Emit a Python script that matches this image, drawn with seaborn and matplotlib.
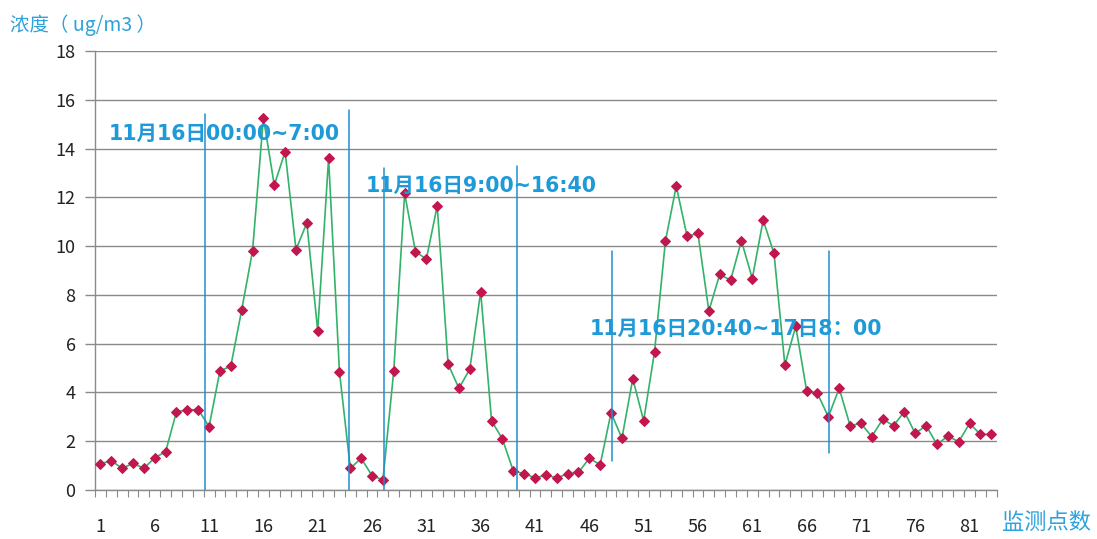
import numpy as np
import pandas as pd
import seaborn as sns
import matplotlib.pyplot as plt
from matplotlib.ticker import MultipleLocator, FixedLocator

# 监测数据 (ug/m3)
values = [1.07, 1.20, 0.89, 1.09, 0.89, 1.32, 1.57, 3.21, 3.28, 3.30,
          2.60, 4.88, 5.08, 7.38, 9.80, 15.27, 12.50, 13.87, 9.86, 10.95,
          6.53, 13.60, 4.85, 0.89, 1.30, 0.59, 0.41, 4.89, 12.16, 9.77,
          9.47, 11.65, 5.16, 4.17, 4.96, 8.13, 2.84, 2.09, 0.78, 0.67,
          0.50, 0.61, 0.50, 0.66, 0.72, 1.30, 1.04, 3.17, 2.12, 4.56,
          2.84, 5.66, 10.19, 12.46, 10.40, 10.52, 7.34, 8.84, 8.60, 10.22,
          8.67, 11.07, 9.70, 5.12, 6.72, 4.07, 3.96, 3.00, 4.17, 2.64,
          2.73, 2.19, 2.90, 2.64, 3.21, 2.32, 2.64, 1.87, 2.21, 1.98,
          2.73, 2.28, 2.28]
points = list(range(1, len(values) + 1))
xtick_labels = [str(i) for i in range(1, 82, 5)]

# 时段分隔线 (x位置, 下端, 上端)
sep_x = [10.6, 23.9, 27.1, 39.3, 48.1, 68.1]
sep_bottom = [0, 0, 0, 0, 1.2, 1.5]
sep_top = [15.4, 15.6, 13.2, 13.3, 9.8, 9.8]

# 时段标注
period_labels = ["11月16日00:00~7:00", "11月16日9:00~16:40", "11月16日20:40~17日8：00"]
period_x = [1.8, 25.4, 46.0]
period_y = [14.6, 12.45, 6.6]

sns.set_style("white")
plt.rcParams['font.family'] = ['Noto Sans CJK SC', 'DejaVu Sans']

df = pd.DataFrame({"point": points, "value": values})

fig = plt.figure(figsize=(10.97, 5.39), dpi=100)
ax = fig.add_axes([0.0866, 0.0909, 0.822, 0.8145])

sns.lineplot(data=df, x="point", y="value", ax=ax, color="#33b26a", linewidth=1.2,
             marker="D", markersize=5.5, markerfacecolor="#c2174e",
             markeredgecolor="#c2174e", zorder=3)

for x, b, t in zip(sep_x, sep_bottom, sep_top):
    ax.plot([x, x], [b, t], color="#1f8fd0", linewidth=1.1, zorder=4)

for s, x, y in zip(period_labels, period_x, period_y):
    ax.text(x, y, s, color="#1f9ad8", fontsize=14.8, fontweight="bold",
            family=['DejaVu Sans', 'Noto Sans CJK SC'],
            va="center", ha="left", zorder=5)

ax.set_xlim(0.5, len(values) + 0.5)
ax.set_ylim(0, 18)
ax.yaxis.set_major_locator(MultipleLocator(2))
ax.grid(axis="y", color="#8a8a8a", linewidth=1)
ax.set_axisbelow(True)

ax.xaxis.set_major_locator(FixedLocator(list(range(1, 82, 5))))
ax.set_xticklabels(xtick_labels)
ax.xaxis.set_minor_locator(FixedLocator(np.arange(0.5, len(values) + 1, 1)))
ax.tick_params(axis="x", which="major", length=0, pad=20, labelsize=13,
               labelcolor="#222222")
ax.tick_params(axis="x", which="minor", length=5, width=0.8, color="#8a8a8a",
               direction="out", bottom=True)
ax.tick_params(axis="y", which="major", length=7, width=1, color="#8a8a8a",
               pad=7, labelsize=13, labelcolor="#222222", left=True)

for side in ["top", "right"]:
    ax.spines[side].set_visible(False)
for side in ["left", "bottom"]:
    ax.spines[side].set_color("#8a8a8a")
    ax.spines[side].set_linewidth(1)

ax.set_xlabel("")
ax.set_ylabel("")
fig.text(0.009, 0.953, "浓度（ ug/m3 ）", color="#2ea2dc", fontsize=14, va="center", ha="left")
fig.text(0.913, 0.03, "监测点数", color="#2ea2dc", fontsize=16, va="center", ha="left")

fig.savefig("out.png", dpi=100)
